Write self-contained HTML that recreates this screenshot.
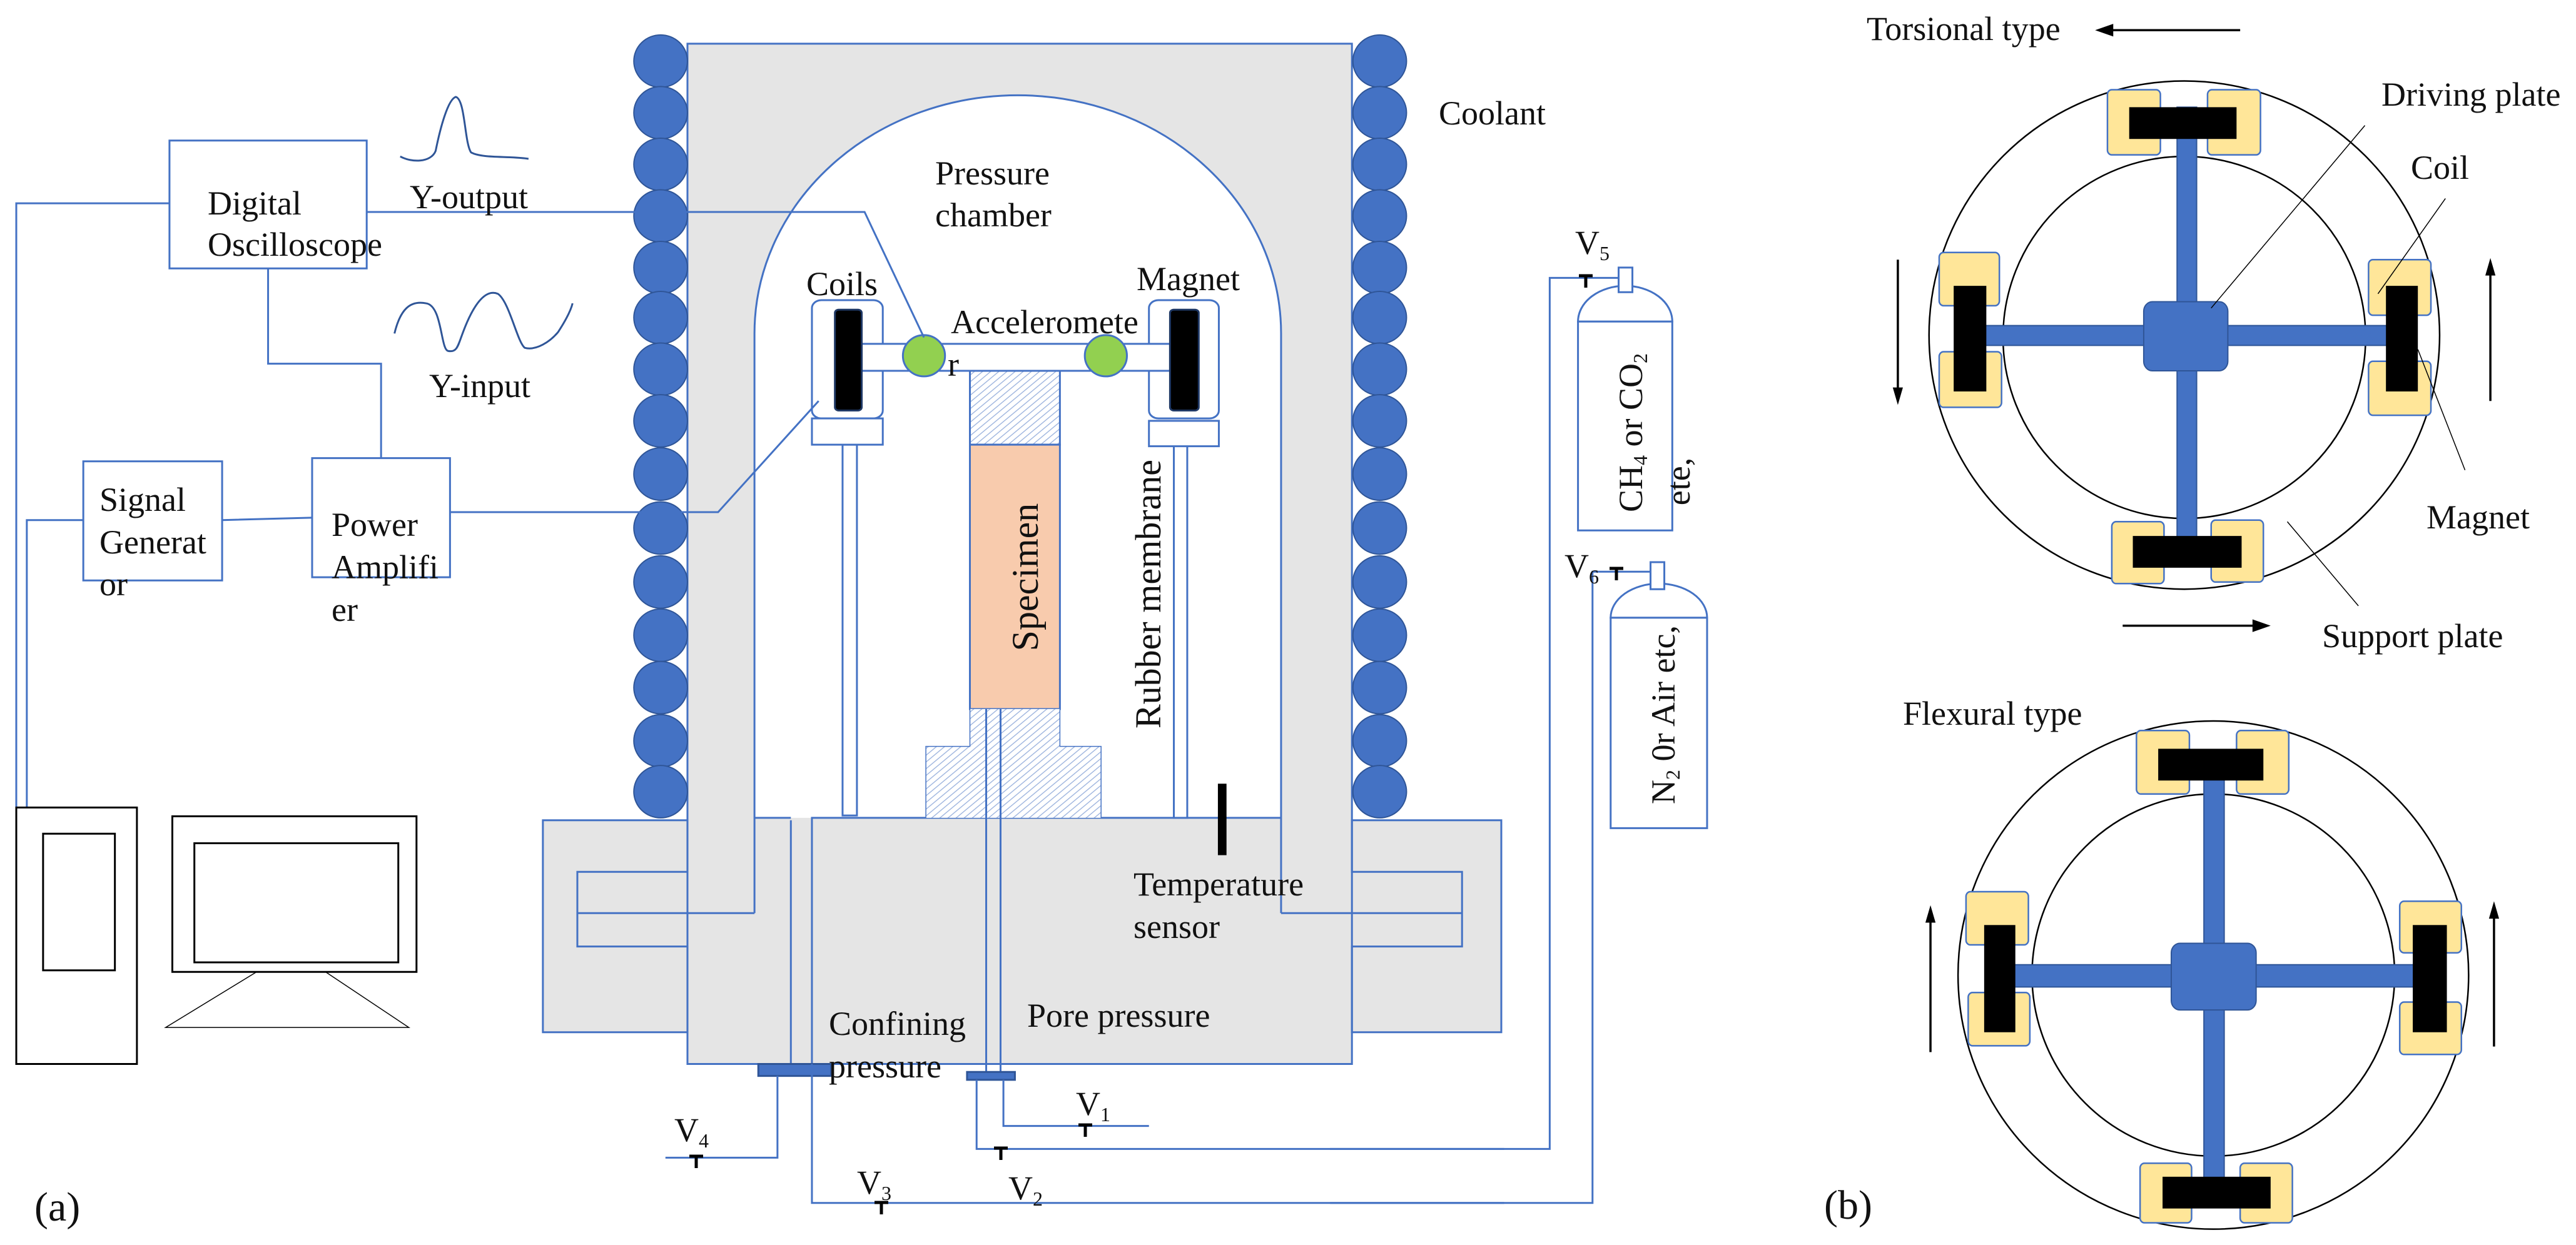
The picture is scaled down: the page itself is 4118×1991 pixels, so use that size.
<!DOCTYPE html>
<html><head><meta charset="utf-8"><style>
html,body{margin:0;padding:0;background:#fff;width:4118px;height:1991px;overflow:hidden}
text{font-family:"Liberation Serif",serif;fill:#111}
</style></head><body>
<svg width="4118" height="1991" viewBox="0 0 4118 1991" xmlns="http://www.w3.org/2000/svg">
<defs>
<pattern id="h" width="6" height="6" patternUnits="userSpaceOnUse" patternTransform="rotate(45)">
<rect width="6" height="6" fill="#fff"/><line x1="0" y1="0" x2="0" y2="6" stroke="#9db4de" stroke-width="2"/>
</pattern>
</defs>
<g transform="scale(1.5306,1.2698)" stroke="#4472c4" stroke-width="3" fill="none">
<g vector-effect="non-scaling-stroke">
<path d="M718,55 H1412 V1033 H1568 V1300 H1412 V1340 H718 V1300 H567 V1033 H718 Z" fill="#e5e5e5" stroke="none"/>
<path d="M788,1030 V420 A275,300 0 0 1 1338,420 V1030 Z" fill="#fff" stroke="none"/>
<path d="M718,55 H1412 V1098 H1527 V1192 H1412 V1340 H718 V1192 H603 V1098 H718 Z" vector-effect="non-scaling-stroke"/>
<rect x="567" y="1033" width="151" height="267" vector-effect="non-scaling-stroke"/>
<rect x="1412" y="1033" width="156" height="267" vector-effect="non-scaling-stroke"/>
<path d="M788,1150 V420 A275,300 0 0 1 1338,420 V1150" vector-effect="non-scaling-stroke"/>
<path d="M603,1150 H788 M1338,1150 H1527 M826,1033 V1340 M848,1340 V1030 H1338 M788,1030 H826" vector-effect="non-scaling-stroke"/>
<g fill="#4472c4" stroke="#2f5597" stroke-width="2">
<ellipse cx="690" cy="77" rx="28" ry="33" vector-effect="non-scaling-stroke"/><ellipse cx="690" cy="142" rx="28" ry="33" vector-effect="non-scaling-stroke"/><ellipse cx="690" cy="207" rx="28" ry="33" vector-effect="non-scaling-stroke"/><ellipse cx="690" cy="272" rx="28" ry="33" vector-effect="non-scaling-stroke"/><ellipse cx="690" cy="337" rx="28" ry="33" vector-effect="non-scaling-stroke"/><ellipse cx="690" cy="400" rx="28" ry="33" vector-effect="non-scaling-stroke"/><ellipse cx="690" cy="465" rx="28" ry="33" vector-effect="non-scaling-stroke"/><ellipse cx="690" cy="530" rx="28" ry="33" vector-effect="non-scaling-stroke"/><ellipse cx="690" cy="597" rx="28" ry="33" vector-effect="non-scaling-stroke"/><ellipse cx="690" cy="665" rx="28" ry="33" vector-effect="non-scaling-stroke"/><ellipse cx="690" cy="733" rx="28" ry="33" vector-effect="non-scaling-stroke"/><ellipse cx="690" cy="800" rx="28" ry="33" vector-effect="non-scaling-stroke"/><ellipse cx="690" cy="866" rx="28" ry="33" vector-effect="non-scaling-stroke"/><ellipse cx="690" cy="933" rx="28" ry="33" vector-effect="non-scaling-stroke"/><ellipse cx="690" cy="997" rx="28" ry="33" vector-effect="non-scaling-stroke"/>
<ellipse cx="1441" cy="77" rx="28" ry="33" vector-effect="non-scaling-stroke"/><ellipse cx="1441" cy="142" rx="28" ry="33" vector-effect="non-scaling-stroke"/><ellipse cx="1441" cy="207" rx="28" ry="33" vector-effect="non-scaling-stroke"/><ellipse cx="1441" cy="272" rx="28" ry="33" vector-effect="non-scaling-stroke"/><ellipse cx="1441" cy="337" rx="28" ry="33" vector-effect="non-scaling-stroke"/><ellipse cx="1441" cy="400" rx="28" ry="33" vector-effect="non-scaling-stroke"/><ellipse cx="1441" cy="465" rx="28" ry="33" vector-effect="non-scaling-stroke"/><ellipse cx="1441" cy="530" rx="28" ry="33" vector-effect="non-scaling-stroke"/><ellipse cx="1441" cy="597" rx="28" ry="33" vector-effect="non-scaling-stroke"/><ellipse cx="1441" cy="665" rx="28" ry="33" vector-effect="non-scaling-stroke"/><ellipse cx="1441" cy="733" rx="28" ry="33" vector-effect="non-scaling-stroke"/><ellipse cx="1441" cy="800" rx="28" ry="33" vector-effect="non-scaling-stroke"/><ellipse cx="1441" cy="866" rx="28" ry="33" vector-effect="non-scaling-stroke"/><ellipse cx="1441" cy="933" rx="28" ry="33" vector-effect="non-scaling-stroke"/><ellipse cx="1441" cy="997" rx="28" ry="33" vector-effect="non-scaling-stroke"/>
</g>
<rect x="880" y="560" width="15" height="467" fill="#fff" vector-effect="non-scaling-stroke"/>
<rect x="1226" y="560" width="14" height="470" fill="#fff" vector-effect="non-scaling-stroke"/>
<rect x="848" y="378" width="74" height="149" rx="10" fill="#fff" vector-effect="non-scaling-stroke"/>
<rect x="848" y="527" width="74" height="33" fill="#fff" vector-effect="non-scaling-stroke"/>
<rect x="1200" y="378" width="73" height="149" rx="10" fill="#fff" vector-effect="non-scaling-stroke"/>
<rect x="1200" y="530" width="73" height="32" fill="#fff" vector-effect="non-scaling-stroke"/>
<rect x="900" y="433" width="322" height="34" fill="#fff" vector-effect="non-scaling-stroke"/>
<rect x="872" y="390" width="28" height="127" rx="4" fill="#000" stroke="#1f3864" vector-effect="non-scaling-stroke"/>
<rect x="1222" y="390" width="30" height="127" rx="4" fill="#000" stroke="#1f3864" vector-effect="non-scaling-stroke"/>
<ellipse cx="965" cy="448" rx="22" ry="26" fill="#92d050" vector-effect="non-scaling-stroke"/>
<ellipse cx="1155" cy="448" rx="22" ry="26" fill="#92d050" vector-effect="non-scaling-stroke"/>
<rect x="1013" y="467" width="94" height="93" fill="url(#h)" vector-effect="non-scaling-stroke"/>
<rect x="1013" y="560" width="94" height="333" fill="#f8cbad" vector-effect="non-scaling-stroke"/>
<path d="M1013,893 H1107 V940 H1150 V1030 H967 V940 H1013 Z" fill="url(#h)" stroke="none"/>
<path d="M1013,893 V940 H967 V1030 M1107,893 V940 H1150 V1030" stroke-width="1.5" vector-effect="non-scaling-stroke"/>
<path d="M1030,893 V1352 M1045,893 V1352" vector-effect="non-scaling-stroke"/>
<rect x="1010" y="1350" width="50" height="10" fill="#4472c4" stroke="#2f5597" vector-effect="non-scaling-stroke"/>
<rect x="792" y="1340" width="76" height="15" fill="#4472c4" stroke="#2f5597" vector-effect="non-scaling-stroke"/>
<path d="M812,1355 V1458 H695 M848,1340 V1515 H1571 M1020,1360 V1447 H1571 M1048,1360 V1418 H1200" vector-effect="non-scaling-stroke"/>
<rect x="1272" y="987" width="9" height="90" fill="#000" stroke="none"/>
<rect x="177" y="177" width="206" height="161" vector-effect="non-scaling-stroke"/>
<path d="M177,256 H17 V1017 M280,338 V458 H398 V577 M232,655 L326,652 M87,655 H28 V1017 M383,267 H903 L965,425 M470,645 H750 L855,505" vector-effect="non-scaling-stroke"/>
<rect x="326" y="577" width="144" height="150" vector-effect="non-scaling-stroke"/>
<rect x="87" y="581" width="145" height="150" vector-effect="non-scaling-stroke"/>
<g stroke="#000">
<rect x="17" y="1017" width="126" height="323" vector-effect="non-scaling-stroke"/>
<rect x="45" y="1050" width="75" height="172" vector-effect="non-scaling-stroke"/>
<rect x="180" y="1028" width="255" height="196" vector-effect="non-scaling-stroke"/>
<rect x="203" y="1062" width="213" height="150" vector-effect="non-scaling-stroke"/>
<path d="M268,1224 L173,1294 H427 L340,1224" stroke-width="1.5" vector-effect="non-scaling-stroke"/>
</g>
<path d="M418,197 C430,205 450,205 455,190 C460,160 468,125 476,122 C486,125 485,180 492,192 C505,200 530,196 552,200" stroke="#2f5597" vector-effect="non-scaling-stroke"/>
<path d="M412,420 C418,390 428,378 445,382 C462,385 460,440 468,442 C480,445 478,430 490,400 C500,375 510,365 520,370 C532,380 540,430 548,438 C560,442 575,430 583,418 C590,405 596,392 598,382" stroke="#2f5597" vector-effect="non-scaling-stroke"/>
</g>
</g>

<g transform="translate(2300,0) scale(1.1594,1.2698)" stroke="#4472c4" stroke-width="3" fill="none">
<path d="M-150,1447 H153 V350 H248 M-150,1515 H212 V720 H292" vector-effect="non-scaling-stroke"/>
<path d="M192,405 A65,45 0 0 1 322,405 Z" fill="#fff" vector-effect="non-scaling-stroke"/>
<rect x="192" y="405" width="130" height="263" fill="#fff" vector-effect="non-scaling-stroke"/>
<rect x="248" y="337" width="19" height="31" fill="#fff" vector-effect="non-scaling-stroke"/>
<path d="M237,778 A66.5,43 0 0 1 370,778 Z" fill="#fff" vector-effect="non-scaling-stroke"/>
<rect x="237" y="778" width="133" height="265" fill="#fff" vector-effect="non-scaling-stroke"/>
<rect x="292" y="708" width="19" height="34" fill="#fff" vector-effect="non-scaling-stroke"/>
<g stroke="#000" stroke-width="2.5">
<ellipse cx="1028" cy="422" rx="352" ry="320" vector-effect="non-scaling-stroke"/>
<ellipse cx="1028" cy="425" rx="250" ry="228" vector-effect="non-scaling-stroke"/>
<ellipse cx="1068" cy="1228" rx="352" ry="320" vector-effect="non-scaling-stroke"/>
<ellipse cx="1068" cy="1228" rx="250" ry="228" vector-effect="non-scaling-stroke"/>
</g>
<g fill="#4472c4" stroke="#2f5597" stroke-width="2">
<rect x="1018" y="135" width="27" height="565" vector-effect="non-scaling-stroke"/>
<rect x="750" y="410" width="560" height="25" vector-effect="non-scaling-stroke"/>
<rect x="972" y="380" width="116" height="87" rx="12" vector-effect="non-scaling-stroke"/>
<rect x="1055" y="950" width="28" height="550" vector-effect="non-scaling-stroke"/>
<rect x="790" y="1215" width="555" height="28" vector-effect="non-scaling-stroke"/>
<rect x="1010" y="1188" width="117" height="84" rx="12" vector-effect="non-scaling-stroke"/>
</g>
<g fill="#ffe699" stroke="#4472c4" stroke-width="2.5">
<rect x="922" y="113" width="73" height="82" rx="6" vector-effect="non-scaling-stroke"/><rect x="1060" y="113" width="73" height="82" rx="6" vector-effect="non-scaling-stroke"/>
<rect x="928" y="657" width="72" height="78" rx="6" vector-effect="non-scaling-stroke"/><rect x="1065" y="655" width="72" height="78" rx="6" vector-effect="non-scaling-stroke"/>
<rect x="690" y="318" width="83" height="67" rx="6" vector-effect="non-scaling-stroke"/><rect x="690" y="443" width="86" height="70" rx="6" vector-effect="non-scaling-stroke"/>
<rect x="1282" y="327" width="86" height="70" rx="6" vector-effect="non-scaling-stroke"/><rect x="1282" y="455" width="86" height="68" rx="6" vector-effect="non-scaling-stroke"/>
<rect x="962" y="920" width="73" height="80" rx="6" vector-effect="non-scaling-stroke"/><rect x="1100" y="920" width="72" height="80" rx="6" vector-effect="non-scaling-stroke"/>
<rect x="967" y="1465" width="71" height="75" rx="6" vector-effect="non-scaling-stroke"/><rect x="1105" y="1465" width="72" height="75" rx="6" vector-effect="non-scaling-stroke"/>
<rect x="727" y="1123" width="86" height="67" rx="6" vector-effect="non-scaling-stroke"/><rect x="730" y="1250" width="85" height="67" rx="6" vector-effect="non-scaling-stroke"/>
<rect x="1325" y="1135" width="85" height="65" rx="6" vector-effect="non-scaling-stroke"/><rect x="1325" y="1262" width="85" height="66" rx="6" vector-effect="non-scaling-stroke"/>
</g>
<g fill="#000" stroke="none">
<rect x="952" y="135" width="148" height="40"/><rect x="957" y="675" width="150" height="40"/>
<rect x="710" y="360" width="45" height="133"/><rect x="1306" y="360" width="44" height="133"/>
<rect x="992" y="943" width="145" height="40"/><rect x="998" y="1482" width="149" height="40"/>
<rect x="752" y="1165" width="43" height="135"/><rect x="1343" y="1165" width="47" height="135"/>
</g>
<g stroke="#000" stroke-width="1.5">
<path d="M1277,158 L1065,388 M1388,250 L1295,370 M1415,592 L1350,440 M1268,763 L1170,657" vector-effect="non-scaling-stroke"/>
</g>
<g stroke="#000" stroke-width="3.5">
<path d="M1105,38 H925 M633,327 V490 M1450,505 V345 M943,788 H1125 M678,1325 V1160 M1455,1318 V1155" vector-effect="non-scaling-stroke"/>
</g>
<g fill="#000" stroke="none">
<path d="M905,38 L930,30 L930,46 Z"/>
<path d="M633,510 L626,488 L640,488 Z"/>
<path d="M1450,325 L1443,347 L1457,347 Z"/>
<path d="M1147,788 L1122,780 L1122,796 Z"/>
<path d="M678,1140 L671,1162 L685,1162 Z"/>
<path d="M1455,1135 L1448,1157 L1462,1157 Z"/>
</g>
</g>

<g stroke="#000" stroke-width="5">
<path d="M1102,1849 H1124 M1113,1849 V1868"/>
<path d="M1398,1923 H1420 M1409,1923 V1942"/>
<path d="M1589,1836 H1611 M1600,1836 V1855"/>
<path d="M1724,1799 H1746 M1735,1799 V1818"/>
<path d="M2524,441 H2546 M2535,441 V460"/>
<path d="M2573,909 H2595 M2584,909 V928"/>
</g>

<g font-size="54" font-family="Liberation Serif, serif">
<text x="332" y="343">Digital</text>
<text x="332" y="409">Oscilloscope</text>
<text x="655" y="333">Y-output</text>
<text x="686" y="635">Y-input</text>
<text x="159" y="817">Signal</text>
<text x="159" y="885">Generat</text>
<text x="159" y="952">or</text>
<text x="530" y="857">Power</text>
<text x="530" y="925">Amplifi</text>
<text x="530" y="993">er</text>
<text x="1495" y="295">Pressure</text>
<text x="1495" y="362">chamber</text>
<text x="1289" y="472">Coils</text>
<text x="1817" y="464">Magnet</text>
<text x="1520" y="533">Acceleromete</text>
<text x="1515" y="601">r</text>
<text x="1641" y="923" text-anchor="middle" transform="rotate(-90 1641 923)" dy="18" font-size="60">Specimen</text>
<text x="1837" y="950" text-anchor="middle" transform="rotate(-90 1837 950)" dy="18" font-size="58">Rubber  membrane</text>
<text x="1812" y="1432">Temperature</text>
<text x="1812" y="1500">sensor</text>
<text x="1325" y="1655">Confining</text>
<text x="1325" y="1723">pressure</text>
<text x="1642" y="1642">Pore pressure</text>
<text x="1720" y="1783">V<tspan font-size="32" dy="10">1</tspan></text>
<text x="1078" y="1825">V<tspan font-size="32" dy="10">4</tspan></text>
<text x="1370" y="1909">V<tspan font-size="32" dy="10">3</tspan></text>
<text x="1612" y="1918">V<tspan font-size="32" dy="10">2</tspan></text>
<text x="2300" y="199">Coolant</text>
<text x="2518" y="406">V<tspan font-size="32" dy="10">5</tspan></text>
<text x="2501" y="923">V<tspan font-size="32" dy="10">6</tspan></text>
<text x="2607" y="692" text-anchor="middle" transform="rotate(-90 2607 692)" dy="18">CH<tspan font-size="32" dy="8">4</tspan><tspan dy="-8"> or CO</tspan><tspan font-size="32" dy="8">2</tspan></text>
<text x="2683" y="770" text-anchor="middle" transform="rotate(-90 2683 770)" dy="18">ete,</text>
<text x="2659" y="1143" text-anchor="middle" transform="rotate(-90 2659 1143)" dy="18">N<tspan font-size="32" dy="8">2</tspan><tspan dy="-8"> 0r Air  etc,</tspan></text>
<text x="2984" y="64">Torsional type</text>
<text x="3807" y="169">Driving plate</text>
<text x="3854" y="286">Coil</text>
<text x="3879" y="845">Magnet</text>
<text x="3712" y="1035">Support plate</text>
<text x="3042" y="1159">Flexural type</text>
<text x="55" y="1952" font-size="66">(a)</text>
<text x="2916" y="1949" font-size="66">(b)</text>
</g>
</svg>
</body></html>
